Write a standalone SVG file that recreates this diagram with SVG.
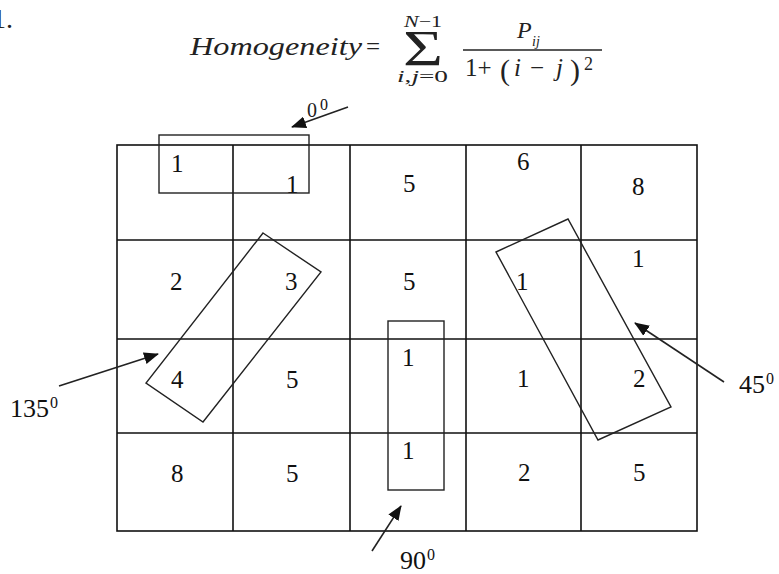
<svg xmlns="http://www.w3.org/2000/svg" width="779" height="574" viewBox="0 0 779 574">
<style>
.grid{fill:none;stroke:#111;stroke-width:1.6}
.win{fill:none;stroke:#222;stroke-width:1.4}
.arr{fill:none;stroke:#222;stroke-width:1.6}
.n{font-family:"Liberation Serif",serif;font-size:25px;fill:#111}
.lbl{font-family:"Liberation Serif",serif;font-size:26px;fill:#111}
.sup{font-family:"Liberation Serif",serif;font-size:16px;fill:#111}
.f{font-family:"Liberation Serif",serif;fill:#222}
.it{font-style:italic}
</style>
<defs>
<marker id="ah" markerUnits="userSpaceOnUse" markerWidth="16" markerHeight="12" refX="14" refY="6" orient="auto">
<path d="M0,0 L15,6 L0,12 Z" fill="#111"/>
</marker>
</defs>
<text class="f" x="-8" y="28" font-size="28">1.</text>
<g id="formula">
<text class="f it" x="190" y="55" font-size="25" textLength="172" lengthAdjust="spacingAndGlyphs">Homogeneity</text>
<text class="f" x="366" y="55" font-size="25">=</text>
<text class="f" x="404" y="27" font-size="17" textLength="38" lengthAdjust="spacingAndGlyphs"><tspan class="it">N</tspan>−1</text>
<text class="f" x="403" y="65" font-size="50" textLength="40" lengthAdjust="spacingAndGlyphs">Σ</text>
<text class="f" x="397" y="82" font-size="17" textLength="51" lengthAdjust="spacingAndGlyphs"><tspan class="it">i</tspan>,<tspan class="it">j</tspan>=0</text>
<text class="f it" x="517" y="38" font-size="24">P</text>
<text class="f it" x="532" y="46" font-size="14">ij</text>
<line x1="463" y1="50" x2="602" y2="50" stroke="#222" stroke-width="1.5"/>
<text class="f" x="465" y="76" font-size="25">1+</text>
<text class="f" x="500" y="80" font-size="30">(</text>
<text class="f it" x="514" y="76" font-size="25">i</text>
<text class="f" x="530" y="76" font-size="25">−</text>
<text class="f it" x="556" y="76" font-size="25">j</text>
<text class="f" x="570" y="80" font-size="30">)</text>
<text class="f" x="584" y="70" font-size="18">2</text>
</g>
<g id="grid">
<rect class="grid" x="117" y="145" width="580" height="386"/>
<path class="grid" d="M233,145V531M350,145V531M466,145V531M581,145V531M117,240H697M117,339H697M117,433H697"/>
</g>
<g id="numbers">
<text class="n" x="171" y="172">1</text>
<text class="n" x="286" y="193">1</text>
<text class="n" x="403" y="192">5</text>
<text class="n" x="517" y="170">6</text>
<text class="n" x="632" y="195">8</text>
<text class="n" x="170" y="290">2</text>
<text class="n" x="285" y="290">3</text>
<text class="n" x="403" y="290">5</text>
<text class="n" x="516" y="290">1</text>
<text class="n" x="632" y="267">1</text>
<text class="n" x="171" y="388">4</text>
<text class="n" x="286" y="388">5</text>
<text class="n" x="402" y="366">1</text>
<text class="n" x="517" y="387">1</text>
<text class="n" x="633" y="387">2</text>
<text class="n" x="171" y="482">8</text>
<text class="n" x="286" y="482">5</text>
<text class="n" x="402" y="459">1</text>
<text class="n" x="518" y="481">2</text>
<text class="n" x="633" y="481">5</text>
</g>
<g id="win0">
<rect class="win" x="159" y="135" width="150" height="58"/>
</g>
<g id="win135">
<polygon class="win" points="263,233 321,272 203,422 146,383"/>
</g>
<g id="win90">
<rect class="win" x="388" y="321" width="56" height="169"/>
</g>
<g id="win45">
<polygon class="win" points="496,252 568,219 671,407 598,440"/>
</g>
<g id="connectors">
<line class="arr" x1="348" y1="107" x2="292" y2="127" marker-end="url(#ah)"/>
<line class="arr" x1="59" y1="386" x2="158" y2="354" marker-end="url(#ah)"/>
<line class="arr" x1="724" y1="382" x2="635" y2="323" marker-end="url(#ah)"/>
<line class="arr" x1="372" y1="551" x2="401" y2="506" marker-end="url(#ah)"/>
</g>
<g id="labels">
<text class="f" x="307" y="117" font-size="20">0</text><text class="sup" x="320" y="110" font-size="12">0</text>
<text class="lbl" x="10" y="417">135</text><text class="sup" x="50" y="408">0</text>
<text class="lbl" x="739" y="393">45</text><text class="sup" x="766" y="384">0</text>
<text class="lbl" x="400" y="569">90</text><text class="sup" x="427" y="560">0</text>
</g>
</svg>
